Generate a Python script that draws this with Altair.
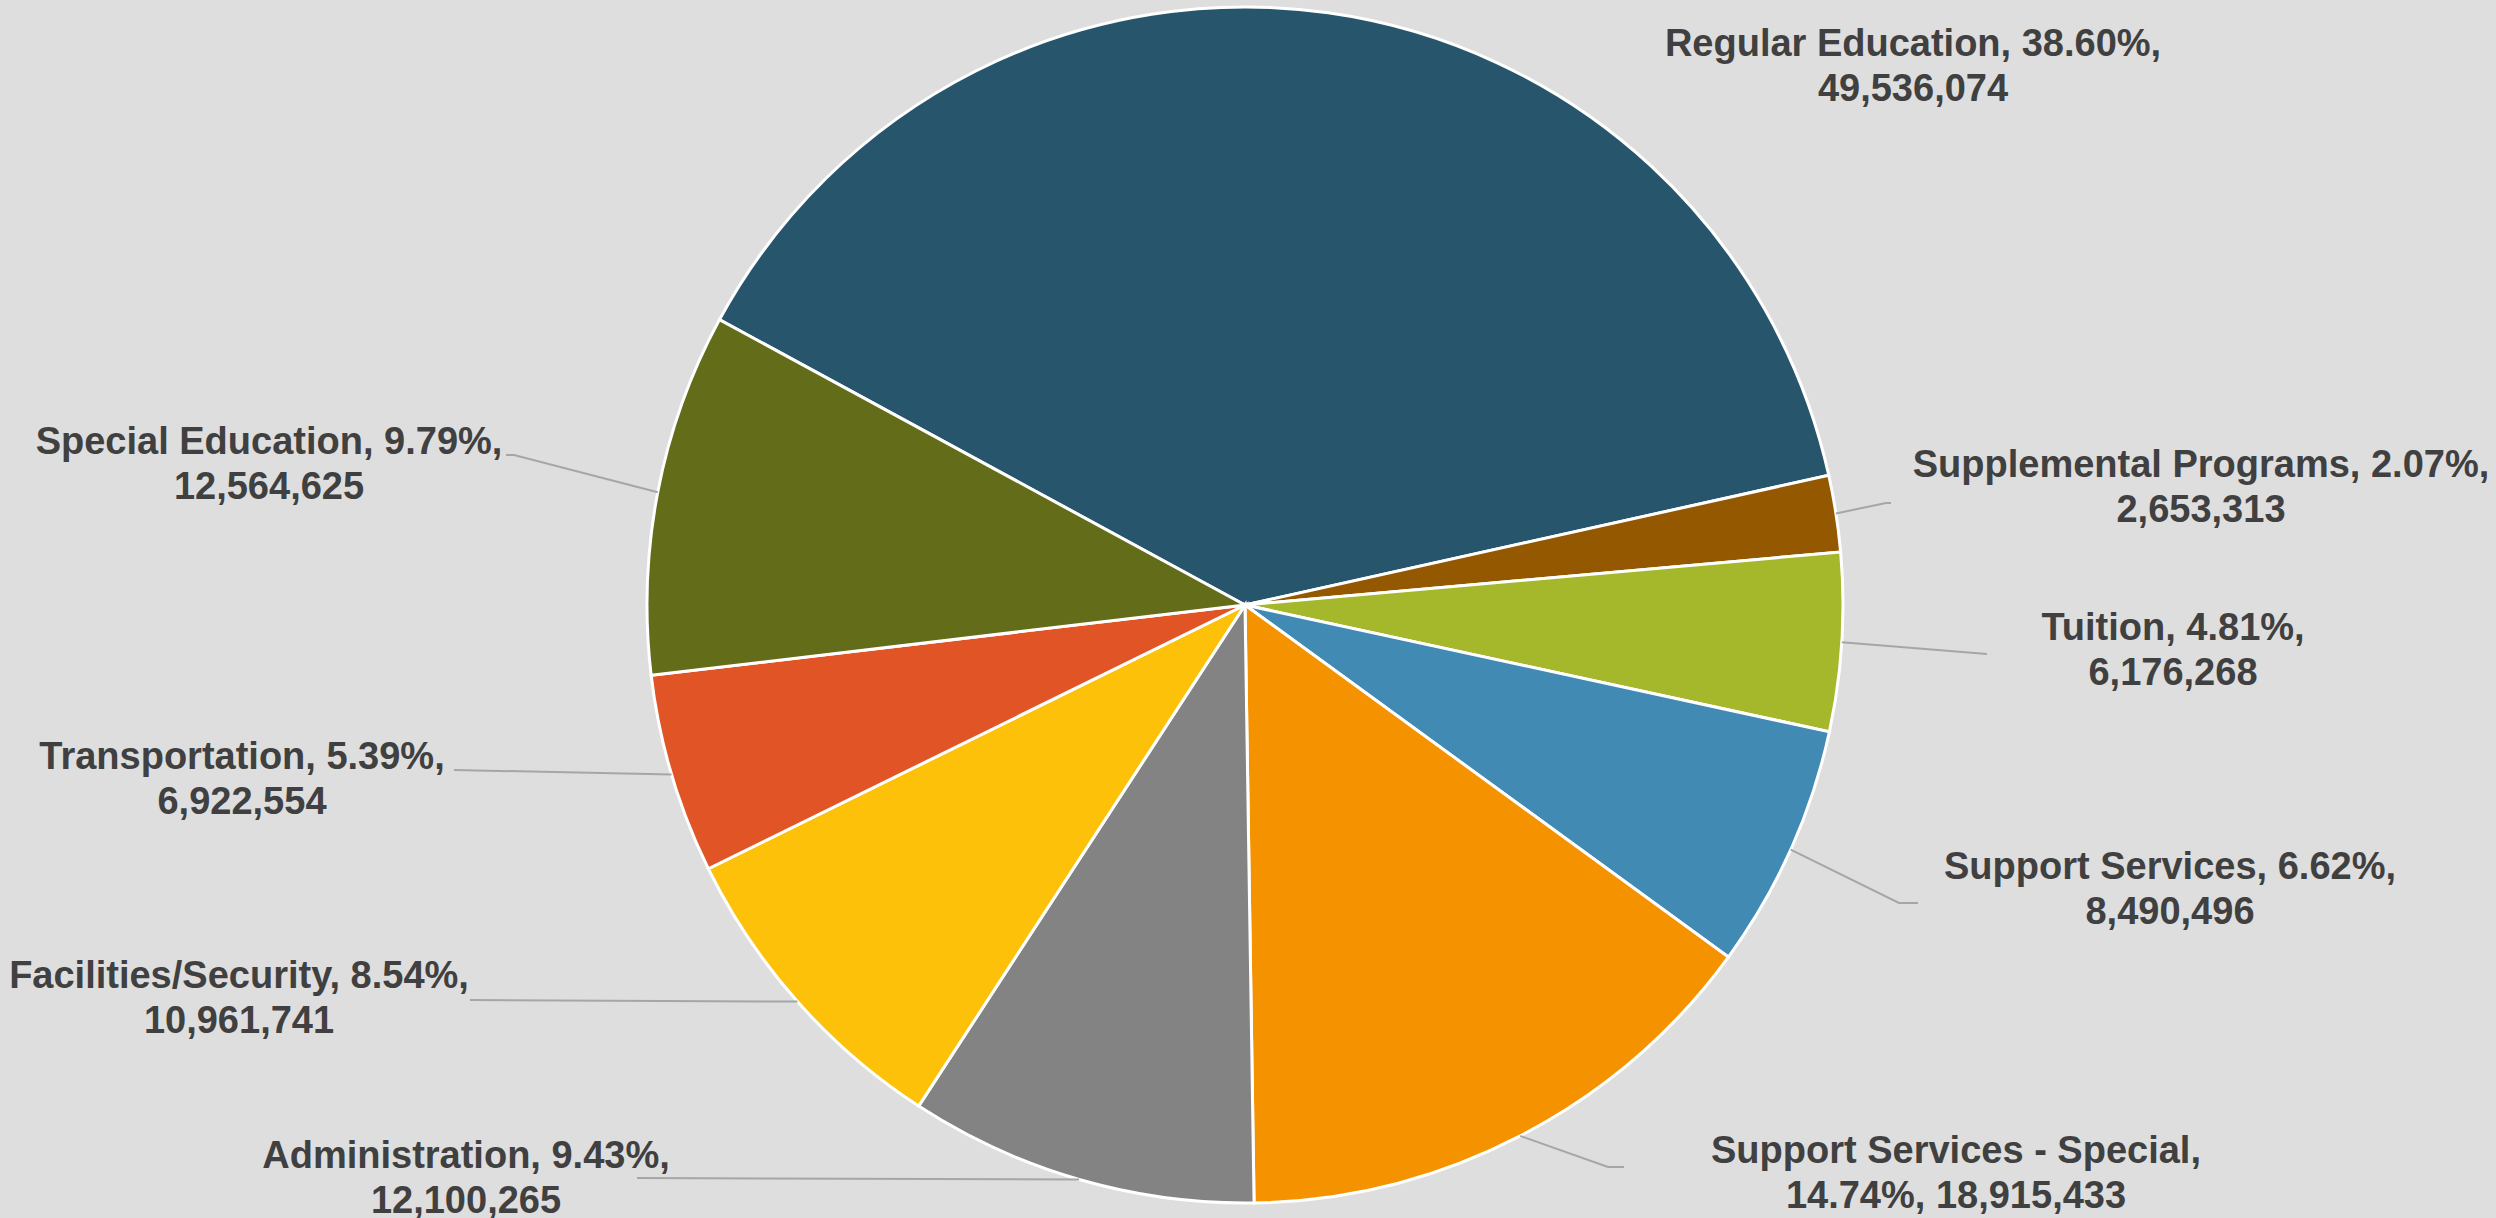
import math
import altair as alt
import pandas as pd

# ---- data ----
categories = [
    "Regular Education", "Supplemental Programs", "Tuition", "Support Services",
    "Support Services - Special", "Administration", "Facilities/Security",
    "Transportation", "Special Education",
]
values = [49536074, 2653313, 6176268, 8490496, 18915433, 12100265, 10961741, 6922554, 12564625]
percents = [38.60, 2.07, 4.81, 6.62, 14.74, 9.43, 8.54, 5.39, 9.79]
colors = ["#27556C", "#935800", "#A5B72A", "#418AB4", "#F59200",
          "#838383", "#FDC109", "#E05426", "#636C18"]

# ---- layout (pixels) ----
W, H = 2496, 1218
CX, CY, R = 1245, 605, 598
START = math.radians(-61.5)
# centre of the first text line of each label
label_anchors = [(1913, 45), (2201, 466), (2173, 629), (2170, 868), (1956, 1152),
                 (466, 1157), (239, 977), (242, 758), (269, 443)]
# leader line bends/ends after the slice-edge start point (None = no leader)
leader_tails = [None, [(1886, 503), (1891, 503)], [(1987, 654)],
                [(1899, 903), (1918, 903)], [(1608, 1167), (1624, 1167)],
                [(637, 1178)], [(470, 1000)], [(454, 770)],
                [(514, 455), (506, 455)]]
wrap_after_name = {"Support Services - Special"}

total = sum(values)
slices = pd.DataFrame({"category": categories, "value": values, "idx": range(len(values))})

labels = []
lines = []
cum = 0
for i, (c, v, p) in enumerate(zip(categories, values, percents)):
    if c in wrap_after_name:
        txt = f"{c},\n{p:.2f}%, {v:,}"
    else:
        txt = f"{c}, {p:.2f}%,\n{v:,}"
    lx, ly = label_anchors[i]
    labels.append({"x": lx, "y": ly, "text": txt})
    mid = START + 2 * math.pi * (cum + v / 2) / total
    cum += v
    if leader_tails[i]:
        pts = [(CX + R * math.sin(mid), CY - R * math.cos(mid))] + leader_tails[i]
        for k, (px, py) in enumerate(pts):
            lines.append({"cat": c, "k": k, "x": px, "y": py})

labels_df = pd.DataFrame(labels)
lines_df = pd.DataFrame(lines)

xs = alt.Scale(domain=[0, W], range=[0, W])
ys = alt.Scale(domain=[0, H], range=[0, H])

pie = alt.Chart(slices).mark_arc(outerRadius=R, stroke="white", strokeWidth=3).encode(
    theta=alt.Theta("value:Q", stack=True,
                    scale=alt.Scale(domain=[0, total], range=[START, START + 2 * math.pi])),
    order=alt.Order("idx:Q"),
    color=alt.Color("category:N", scale=alt.Scale(domain=categories, range=colors), legend=None),
    x=alt.value(CX),
    y=alt.value(CY),
)

leaders = alt.Chart(lines_df).mark_line(color="#A6A6A6", strokeWidth=2).encode(
    x=alt.X("x:Q", scale=xs, axis=None),
    y=alt.Y("y:Q", scale=ys, axis=None),
    detail="cat:N",
    order="k:Q",
)

text = alt.Chart(labels_df).mark_text(
    font="Liberation Sans", fontWeight="bold", fontSize=38, color="#404040",
    lineBreak="\n", lineHeight=44.5, align="center", baseline="middle",
).encode(
    x=alt.X("x:Q", scale=xs, axis=None),
    y=alt.Y("y:Q", scale=ys, axis=None),
    text="text:N",
)

chart = alt.layer(pie, leaders, text).properties(
    width=W, height=H, padding=0, background="#DEDEDE",
    autosize=alt.AutoSizeParams(type="fit", contains="padding"),
).configure_view(stroke=None)

chart.save("out.html", embed_options={"renderer": "svg", "actions": False})
